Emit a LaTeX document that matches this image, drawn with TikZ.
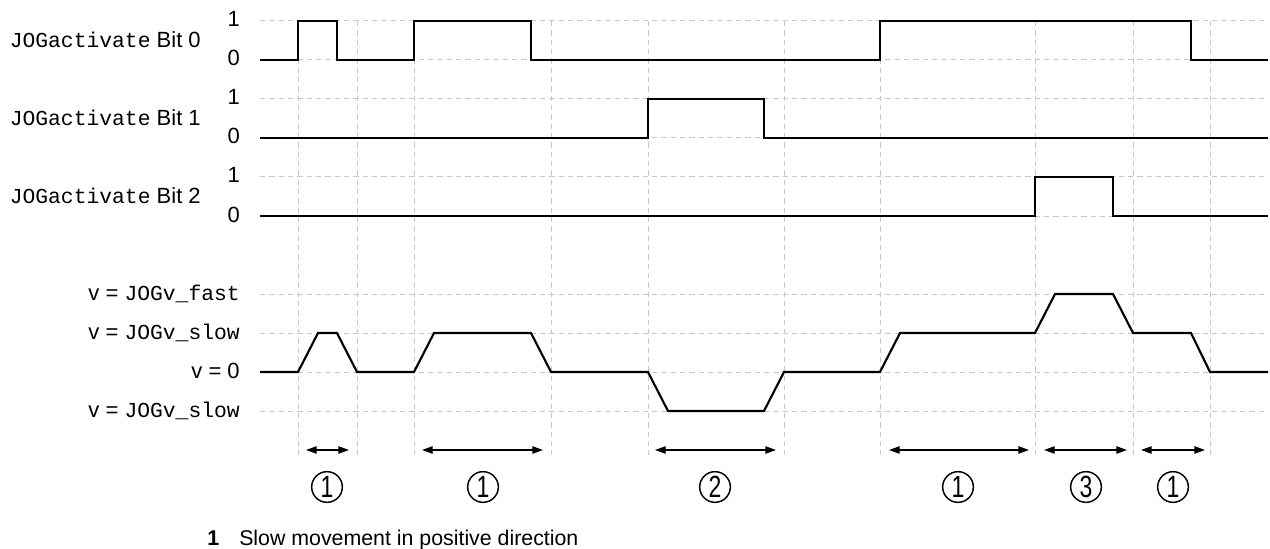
\documentclass[tikz,border=0pt]{standalone}
\usepackage{fontspec}
\setmainfont{Liberation Sans}
\newfontfamily\cour{Liberation Mono}
\usetikzlibrary{arrows.meta}
\definecolor{gridgray}{RGB}{200,200,200}
\tikzset{
  gridline/.style={draw=gridgray, line width=0.75pt, dash pattern=on 4pt off 3pt},
  sig/.style={line width=1.6pt, line join=miter},
  lbl/.style={inner sep=0pt, font=\fontsize{16.5}{19}\selectfont},
  legtext/.style={inner sep=0pt, font=\fontsize{16}{19}\selectfont},
  dimarrow/.style={line width=1pt, {Triangle[length=8pt,width=5.5pt]}-{Triangle[length=8pt,width=5.5pt]}},
  num/.style={circle, draw, line width=1.1pt, minimum size=23pt, inner sep=0pt, font=\fontsize{23}{23}\selectfont},
}
\begin{document}
\begin{tikzpicture}[x=0.75pt,y=-0.75pt]
\useasboundingbox (0,0) rectangle (1270,549);
% grid
\foreach \yy in {21,60,99,138,177,216,294,333,372,411}
  \draw[gridline] (260,\yy) -- (1268,\yy);
\foreach \xx in {298,357,414,551,648,784,880,1035,1133,1210}
  \draw[gridline] (\xx,21) -- (\xx,455);
% signals
\draw[sig] (260,60) -- (298,60) -- (298,21) -- (337,21) -- (337,60) -- (414,60) -- (414,21) -- (531,21) -- (531,60) -- (880,60) -- (880,21) -- (1191,21) -- (1191,60) -- (1268,60);
\draw[sig] (260,138) -- (648,138) -- (648,99) -- (764,99) -- (764,138) -- (1268,138);
\draw[sig] (260,216) -- (1035,216) -- (1035,177) -- (1113,177) -- (1113,216) -- (1268,216);
\draw[sig] (260,372) -- (298,372) -- (318,333) -- (337,333) -- (357,372) -- (414,372) -- (434,333) -- (531,333) -- (551,372) -- (648,372) -- (668,411) -- (764,411) -- (784,372) -- (880,372) -- (900,333) -- (1035,333) -- (1055,294) -- (1113,294) -- (1133,333) -- (1191,333) -- (1210,372) -- (1268,372);
% signal labels
\node[lbl, anchor=base east] (lb0) at (201,48) {{\cour\fontsize{16}{19}\selectfont JOGactivate} Bit 0};
\node[lbl, anchor=base east] (lb1) at (201,126) {{\cour\fontsize{16}{19}\selectfont JOGactivate} Bit 1};
\node[lbl, anchor=base east] (lb2) at (201,204) {{\cour\fontsize{16}{19}\selectfont JOGactivate} Bit 2};
\node[lbl, anchor=base east] (h0) at (240,27) {1};
\node[lbl, anchor=base east] (l0) at (240,66) {0};
\node[lbl, anchor=base east] (h1) at (240,105) {1};
\node[lbl, anchor=base east] (l1) at (240,144) {0};
\node[lbl, anchor=base east] (h2) at (240,183) {1};
\node[lbl, anchor=base east] (l2) at (240,222) {0};
\node[lbl, anchor=base east] (vf) at (240,300) {v = {\cour\fontsize{16}{19}\selectfont JOGv\_fast}};
\node[lbl, anchor=base east] (vs) at (240,339) {v = {\cour\fontsize{16}{19}\selectfont JOGv\_slow}};
\node[lbl, anchor=base east] (vz) at (240,378) {v = 0};
\node[lbl, anchor=base east] (vn) at (240,417) {v = {\cour\fontsize{16}{19}\selectfont JOGv\_slow}};
% dimension arrows
\coordinate (a1l) at (306,450); \coordinate (a1r) at (349,450);
\coordinate (a2l) at (422,450); \coordinate (a2r) at (543,450);
\coordinate (a3l) at (655,450); \coordinate (a3r) at (776,450);
\coordinate (a4l) at (889,450); \coordinate (a4r) at (1029,450);
\coordinate (a5l) at (1044,450); \coordinate (a5r) at (1127,450);
\coordinate (a6l) at (1141,450); \coordinate (a6r) at (1205,450);
\draw[dimarrow] (a1l) -- (a1r);
\draw[dimarrow] (a2l) -- (a2r);
\draw[dimarrow] (a3l) -- (a3r);
\draw[dimarrow] (a4l) -- (a4r);
\draw[dimarrow] (a5l) -- (a5r);
\draw[dimarrow] (a6l) -- (a6r);
% circled numbers
\node[num] (c1) at (327,487) {\scalebox{0.75}[1]{1}};
\node[num] (c2) at (483,487) {\scalebox{0.75}[1]{1}};
\node[num] (c3) at (715,487) {\scalebox{0.75}[1]{2}};
\node[num] (c4) at (958,487) {\scalebox{0.75}[1]{1}};
\node[num] (c5) at (1086,487) {\scalebox{0.75}[1]{3}};
\node[num] (c6) at (1173,487) {\scalebox{0.75}[1]{1}};
% legend
\node[legtext, anchor=base west] (leg1) at (207,545) {\bfseries 1};
\node[legtext, anchor=base west] (legt) at (239,545) {Slow movement in positive direction};
\end{tikzpicture}
\end{document}
